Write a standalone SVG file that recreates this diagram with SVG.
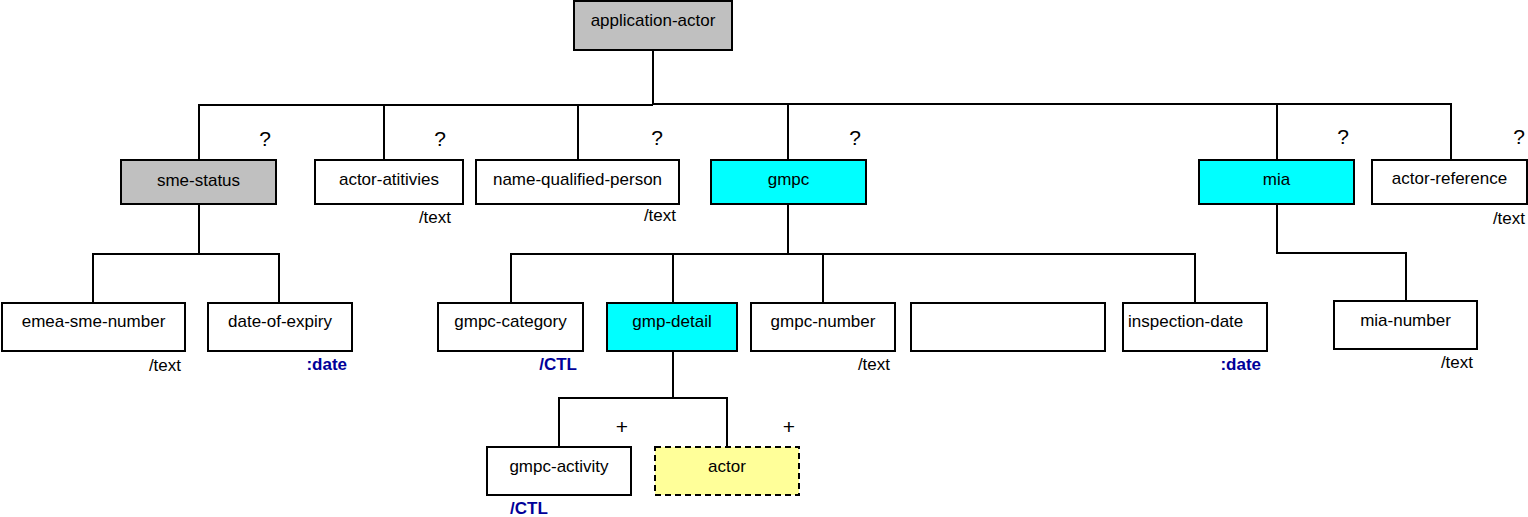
<svg xmlns="http://www.w3.org/2000/svg" width="1528" height="517" viewBox="0 0 1528 517">
<style>
.box{stroke:#000;stroke-width:2;fill:#fff}
.grey{fill:#c0c0c0}
.cyan{fill:#00ffff}
.opt{fill:#ffff99;stroke-dasharray:6,4}
.lbl{font-family:"Liberation Sans",Arial,sans-serif;font-size:17px;fill:#000;text-anchor:middle}
.left{text-anchor:start}
.typ{font-family:"Liberation Sans",Arial,sans-serif;font-size:17px;fill:#000;text-anchor:end}
.blue{fill:#000099;font-weight:bold}
.card{font-family:"Liberation Sans",Arial,sans-serif;font-size:21px;fill:#000;text-anchor:middle}
.conn{stroke:#000;stroke-width:2;fill:none}
</style>
<rect width="1528" height="517" fill="#fff"/>
<g id="connectors">
<path class="conn" d="M653,50 V104"/>
<path class="conn" d="M199,160 V105 H653 M653,104 H1451 V160"/>
<path class="conn" d="M384,105 V160"/>
<path class="conn" d="M578,105 V160"/>
<path class="conn" d="M788,104 V160"/>
<path class="conn" d="M1277,104 V160"/>
<path class="conn" d="M199,204 V254 M93,303 V254 H279 V303"/>
<path class="conn" d="M788,204 V254 M511,303 V254 H1195 V303 M673,254 V303 M823,254 V303"/>
<path class="conn" d="M1277,204 V253 H1406 V301"/>
<path class="conn" d="M673,351 V398 M559,447 V398 H727 V447"/>
</g>
<g id="application-actor">
<rect class="box grey" x="574" y="1" width="158" height="49"/>
<text class="lbl" x="653" y="26">application-actor</text>
</g>
<g id="sme-status">
<rect class="box grey" x="121" y="160" width="155" height="44"/>
<text class="lbl" x="198.5" y="186">sme-status</text>
<text class="card" x="265" y="146">?</text>
</g>
<g id="actor-atitivies">
<rect class="box" x="315" y="160" width="148" height="44"/>
<text class="lbl" x="389" y="185">actor-atitivies</text>
<text class="card" x="440" y="146">?</text>
<text class="typ" x="451" y="223">/text</text>
</g>
<g id="name-qualified-person">
<rect class="box" x="476" y="160" width="203" height="44"/>
<text class="lbl" x="577.5" y="185">name-qualified-person</text>
<text class="card" x="657" y="145">?</text>
<text class="typ" x="676" y="221">/text</text>
</g>
<g id="gmpc">
<rect class="box cyan" x="711" y="160" width="155" height="44"/>
<text class="lbl" x="788.5" y="185">gmpc</text>
<text class="card" x="855" y="145">?</text>
</g>
<g id="mia">
<rect class="box cyan" x="1199" y="160" width="155" height="44"/>
<text class="lbl" x="1276.5" y="185">mia</text>
<text class="card" x="1343" y="144">?</text>
</g>
<g id="actor-reference">
<rect class="box" x="1372" y="160" width="155" height="44"/>
<text class="lbl" x="1449.5" y="184">actor-reference</text>
<text class="card" x="1519" y="144">?</text>
<text class="typ" x="1525" y="224">/text</text>
</g>
<g id="emea-sme-number">
<rect class="box" x="2" y="303" width="183" height="48"/>
<text class="lbl" x="93.5" y="327">emea-sme-number</text>
<text class="typ" x="181" y="371">/text</text>
</g>
<g id="date-of-expiry">
<rect class="box" x="208" y="303" width="144" height="48"/>
<text class="lbl" x="280" y="327">date-of-expiry</text>
<text class="typ blue" x="347" y="370">:date</text>
</g>
<g id="gmpc-category">
<rect class="box" x="438" y="303" width="145" height="48"/>
<text class="lbl" x="510.5" y="327">gmpc-category</text>
<text class="typ blue" x="577" y="370">/CTL</text>
</g>
<g id="gmp-detail">
<rect class="box cyan" x="607" y="303" width="130" height="48"/>
<text class="lbl" x="672" y="327">gmp-detail</text>
</g>
<g id="gmpc-number">
<rect class="box" x="751" y="303" width="144" height="48"/>
<text class="lbl" x="823" y="327">gmpc-number</text>
<text class="typ" x="890" y="370">/text</text>
</g>
<g id="empty-node">
<rect class="box" x="911" y="303" width="194" height="48"/>
</g>
<g id="inspection-date">
<rect class="box" x="1123" y="303" width="144" height="48"/>
<text class="lbl left" x="1128" y="327">inspection-date</text>
<text class="typ blue" x="1261" y="370">:date</text>
</g>
<g id="mia-number">
<rect class="box" x="1334" y="301" width="143" height="48"/>
<text class="lbl" x="1405.5" y="326">mia-number</text>
<text class="typ" x="1473" y="368">/text</text>
</g>
<g id="gmpc-activity">
<rect class="box" x="487" y="447" width="144" height="48"/>
<text class="lbl" x="559" y="472">gmpc-activity</text>
<text class="card" x="622" y="434">+</text>
<text class="typ blue left" x="510" y="514" style="text-anchor:start">/CTL</text>
</g>
<g id="actor">
<rect class="box opt" x="655" y="447" width="144" height="48"/>
<text class="lbl" x="727" y="472">actor</text>
<text class="card" x="789" y="434">+</text>
</g>
</svg>
